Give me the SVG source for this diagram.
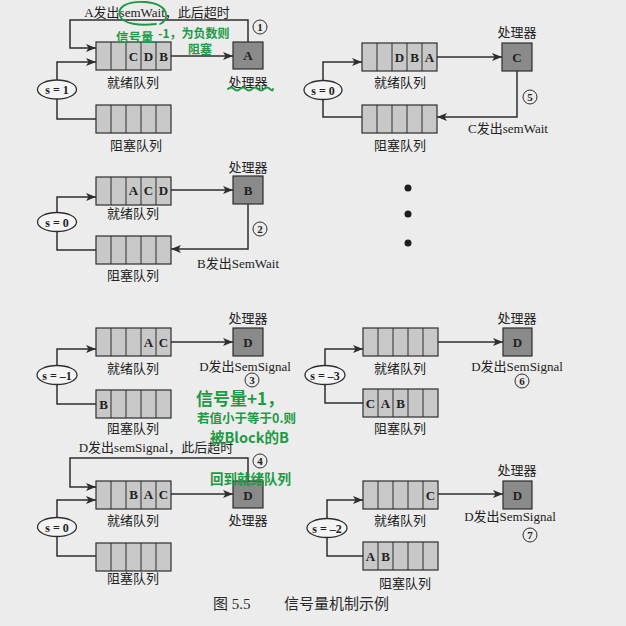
<svg xmlns="http://www.w3.org/2000/svg" xmlns:xlink="http://www.w3.org/1999/xlink" width="626" height="626" viewBox="0 0 626 626">
  <style>
    .bg { fill: #ececec; }
    .q { fill: #c8c8c8; stroke: #2e2e2e; stroke-width: 1.2; }
    .div { stroke: #2e2e2e; stroke-width: 1; }
    .cpu { fill: #8a8a8a; stroke: #2e2e2e; stroke-width: 1.2; }
    .sem { fill: #f4f4f4; stroke: #2e2e2e; stroke-width: 1.3; }
    .conn { fill: none; stroke: #2e2e2e; stroke-width: 1.5; }
    .arr { marker-end: url(#ah); }
    .lbl { font-family: "Liberation Serif", "Noto Sans CJK SC", serif; font-size: 13px; fill: #222; text-anchor: middle; }
    .cell { font-family: "Liberation Serif", serif; font-size: 13px; font-weight: bold; fill: #222; text-anchor: middle; }
    .stxt { font-family: "Liberation Serif", serif; font-size: 12px; font-weight: bold; fill: #222; text-anchor: middle; }
    .num { font-family: "Liberation Serif", serif; font-size: 11px; font-weight: bold; fill: #222; text-anchor: middle; }
    .ring { fill: none; stroke: #2e2e2e; stroke-width: 1; }
    .dot { fill: #1e1e1e; }
    .pen { font-family: "Noto Sans CJK SC", sans-serif; font-weight: bold; fill: #1d9a44; }
    .penline { fill: none; stroke: #1d9a44; stroke-width: 1.8; stroke-linecap: round; }
    .cap { font-family: "Liberation Serif", "Noto Sans CJK SC", serif; font-size: 15px; fill: #2a2a2a; }
  </style>
  <defs>
    <marker id="ah" viewBox="0 0 10 8" refX="10" refY="4" markerWidth="10" markerHeight="8" markerUnits="userSpaceOnUse" orient="auto">
      <path d="M0,0 L10,4 L0,8 L2.5,4 Z" fill="#2e2e2e"/>
    </marker>
    <!-- five-slot queue -->
    <symbol id="queue" viewBox="0 0 75 28" width="75" height="28" overflow="visible">
      <rect class="q" x="0" y="0" width="75" height="28"/>
      <path class="div" d="M15,0 V28 M30,0 V28 M45,0 V28 M60,0 V28"/>
    </symbol>
  </defs>

  <rect class="bg" x="0" y="0" width="626" height="626"/>

  <!-- connectors -->
  <g id="connectors">
    <!-- panel 1 -->
    <path class="conn arr" d="M248,42 V20 H70 V48 H96"/>
    <path class="conn arr" d="M57,80 V62 H96"/>
    <path class="conn" d="M57,99 V119 H96"/>
    <path class="conn arr" d="M171,56 H233"/>
    <!-- panel 5 -->
    <path class="conn arr" d="M437,57 H502"/>
    <path class="conn arr" d="M323,80 V62 H362"/>
    <path class="conn" d="M323,100 V117 H362"/>
    <path class="conn arr" d="M517,71 V117 H437"/>
    <!-- panel 2 -->
    <path class="conn arr" d="M171,190 H233"/>
    <path class="conn arr" d="M57,212 V197 H96"/>
    <path class="conn" d="M57,232 V250 H96"/>
    <path class="conn arr" d="M248,204 V249 H171"/>
    <!-- panel 3 -->
    <path class="conn arr" d="M171,342 H233"/>
    <path class="conn arr" d="M57,365 V349 H96"/>
    <path class="conn" d="M57,385 V404 H96"/>
    <!-- panel 6 -->
    <path class="conn arr" d="M438,342 H503"/>
    <path class="conn arr" d="M325,365 V349 H363"/>
    <path class="conn" d="M325,385 V403 H363"/>
    <!-- panel 4 -->
    <path class="conn arr" d="M248,481 V458 H70 V487 H96"/>
    <path class="conn arr" d="M57,517 V500 H96"/>
    <path class="conn" d="M57,537 V556 H96"/>
    <path class="conn arr" d="M171,494 H233"/>
    <!-- panel 7 -->
    <path class="conn arr" d="M438,494 H503"/>
    <path class="conn arr" d="M327,518 V500 H363"/>
    <path class="conn" d="M327,538 V556 H363"/>
  </g>

  <!-- panel 1 -->
  <g id="p1-ready">
    <use href="#queue" x="96" y="42"/>
    <text class="cell" x="133.5" y="61">C</text>
    <text class="cell" x="148.5" y="61">D</text>
    <text class="cell" x="163.5" y="61">B</text>
    <text class="lbl" x="133" y="87">就绪队列</text>
  </g>
  <g id="p1-cpu">
    <rect class="cpu" x="233" y="42" width="30" height="27"/>
    <text class="cell" x="248" y="60">A</text>
    <text class="lbl" x="248" y="87">处理器</text>
  </g>
  <g id="p1-blocked">
    <use href="#queue" x="96" y="105"/>
    <text class="lbl" x="136" y="150">阻塞队列</text>
  </g>
  <g id="p1-sem">
    <ellipse class="sem" cx="57" cy="89.5" rx="19.5" ry="9.5"/>
    <text class="stxt" x="57" y="94">s = 1</text>
  </g>
  <g id="p1-note">
    <text class="lbl" x="157" y="17">A发出semWait，此后超时</text>
    <circle class="ring" cx="260" cy="27" r="7"/>
    <text class="num" x="260" y="31">1</text>
  </g>

  <!-- panel 5 -->
  <g id="p5-ready">
    <use href="#queue" x="362" y="43"/>
    <text class="cell" x="399.5" y="62">D</text>
    <text class="cell" x="414.5" y="62">B</text>
    <text class="cell" x="429.5" y="62">A</text>
    <text class="lbl" x="400" y="87">就绪队列</text>
  </g>
  <g id="p5-cpu">
    <rect class="cpu" x="502" y="43" width="30" height="28"/>
    <text class="cell" x="517" y="62">C</text>
    <text class="lbl" x="517" y="37">处理器</text>
  </g>
  <g id="p5-blocked">
    <use href="#queue" x="362" y="105"/>
    <text class="lbl" x="400" y="150">阻塞队列</text>
  </g>
  <g id="p5-sem">
    <ellipse class="sem" cx="323" cy="90" rx="19" ry="9.5"/>
    <text class="stxt" x="323" y="94.5">s = 0</text>
  </g>
  <g id="p5-note">
    <circle class="ring" cx="530" cy="97" r="7"/>
    <text class="num" x="530" y="101">5</text>
    <text class="lbl" x="508" y="133">C发出semWait</text>
  </g>

  <!-- panel 2 -->
  <g id="p2-ready">
    <use href="#queue" x="96" y="177"/>
    <text class="cell" x="133.5" y="195">A</text>
    <text class="cell" x="148.5" y="195">C</text>
    <text class="cell" x="163.5" y="195">D</text>
    <text class="lbl" x="133" y="218">就绪队列</text>
  </g>
  <g id="p2-cpu">
    <rect class="cpu" x="233" y="176" width="30" height="28"/>
    <text class="cell" x="248" y="195">B</text>
    <text class="lbl" x="248" y="172">处理器</text>
  </g>
  <g id="p2-blocked">
    <use href="#queue" x="96" y="236"/>
    <text class="lbl" x="133" y="280">阻塞队列</text>
  </g>
  <g id="p2-sem">
    <ellipse class="sem" cx="57" cy="222" rx="19.5" ry="9.5"/>
    <text class="stxt" x="57" y="226.5">s = 0</text>
  </g>
  <g id="p2-note">
    <circle class="ring" cx="260" cy="229" r="7"/>
    <text class="num" x="260" y="233">2</text>
    <text class="lbl" x="238" y="268">B发出SemWait</text>
  </g>

  <!-- elision dots -->
  <g id="ellipsis">
    <circle class="dot" cx="408" cy="188" r="3.5"/>
    <circle class="dot" cx="408" cy="214" r="3.5"/>
    <circle class="dot" cx="408" cy="243" r="3.5"/>
  </g>

  <!-- panel 3 -->
  <g id="p3-ready">
    <use href="#queue" x="96" y="328"/>
    <text class="cell" x="148.5" y="347">A</text>
    <text class="cell" x="163.5" y="347">C</text>
    <text class="lbl" x="133" y="373">就绪队列</text>
  </g>
  <g id="p3-cpu">
    <rect class="cpu" x="233" y="328" width="30" height="28"/>
    <text class="cell" x="248" y="347">D</text>
    <text class="lbl" x="248" y="323">处理器</text>
  </g>
  <g id="p3-blocked">
    <use href="#queue" x="96" y="390"/>
    <text class="cell" x="103.5" y="409">B</text>
    <text class="lbl" x="133" y="433">阻塞队列</text>
  </g>
  <g id="p3-sem">
    <ellipse class="sem" cx="57" cy="375" rx="20" ry="9.5"/>
    <text class="stxt" x="57" y="379.5">s = –1</text>
  </g>
  <g id="p3-note">
    <text class="lbl" x="245" y="371">D发出SemSignal</text>
    <circle class="ring" cx="252" cy="380" r="7"/>
    <text class="num" x="252" y="384">3</text>
  </g>

  <!-- panel 6 -->
  <g id="p6-ready">
    <use href="#queue" x="363" y="328"/>
    <text class="lbl" x="400" y="373">就绪队列</text>
  </g>
  <g id="p6-cpu">
    <rect class="cpu" x="503" y="328" width="29" height="28"/>
    <text class="cell" x="517.5" y="347">D</text>
    <text class="lbl" x="517" y="323">处理器</text>
  </g>
  <g id="p6-blocked">
    <use href="#queue" x="363" y="389"/>
    <text class="cell" x="370.5" y="408">C</text>
    <text class="cell" x="385.5" y="408">A</text>
    <text class="cell" x="400.5" y="408">B</text>
    <text class="lbl" x="400" y="433">阻塞队列</text>
  </g>
  <g id="p6-sem">
    <ellipse class="sem" cx="325" cy="375" rx="20" ry="9.5"/>
    <text class="stxt" x="325" y="379.5">s = –3</text>
  </g>
  <g id="p6-note">
    <text class="lbl" x="517" y="371">D发出SemSignal</text>
    <circle class="ring" cx="522" cy="381" r="7"/>
    <text class="num" x="522" y="385">6</text>
  </g>

  <!-- panel 4 -->
  <g id="p4-ready">
    <use href="#queue" x="96" y="481"/>
    <text class="cell" x="133.5" y="499">B</text>
    <text class="cell" x="148.5" y="499">A</text>
    <text class="cell" x="163.5" y="499">C</text>
    <text class="lbl" x="133" y="525">就绪队列</text>
  </g>
  <g id="p4-cpu">
    <rect class="cpu" x="233" y="481" width="30" height="27"/>
    <text class="cell" x="248" y="500">D</text>
    <text class="lbl" x="248" y="525">处理器</text>
  </g>
  <g id="p4-blocked">
    <use href="#queue" x="96" y="543"/>
    <text class="lbl" x="133" y="583">阻塞队列</text>
  </g>
  <g id="p4-sem">
    <ellipse class="sem" cx="57" cy="527" rx="19.5" ry="9.5"/>
    <text class="stxt" x="57" y="531.5">s = 0</text>
  </g>
  <g id="p4-note">
    <text class="lbl" x="156" y="452">D发出semSignal，此后超时</text>
    <circle class="ring" cx="260" cy="461" r="7"/>
    <text class="num" x="260" y="465">4</text>
  </g>

  <!-- panel 7 -->
  <g id="p7-ready">
    <use href="#queue" x="363" y="481"/>
    <text class="cell" x="430.5" y="500">C</text>
    <text class="lbl" x="400" y="525">就绪队列</text>
  </g>
  <g id="p7-cpu">
    <rect class="cpu" x="503" y="481" width="29" height="28"/>
    <text class="cell" x="517.5" y="500">D</text>
    <text class="lbl" x="517" y="475">处理器</text>
  </g>
  <g id="p7-blocked">
    <use href="#queue" x="363" y="542"/>
    <text class="cell" x="370.5" y="561">A</text>
    <text class="cell" x="385.5" y="561">B</text>
    <text class="lbl" x="405" y="588">阻塞队列</text>
  </g>
  <g id="p7-sem">
    <ellipse class="sem" cx="327" cy="528" rx="20" ry="9.5"/>
    <text class="stxt" x="327" y="532.5">s = –2</text>
  </g>
  <g id="p7-note">
    <text class="lbl" x="510" y="521">D发出SemSignal</text>
    <circle class="ring" cx="530" cy="535" r="7"/>
    <text class="num" x="530" y="539">7</text>
  </g>

  <!-- handwritten notes in green pen -->
  <g id="pen-notes">
    <path class="penline" d="M160,24 C170,20 170,4 145,2 C125,1 117,8 120,16 C123,24 140,26 156,24"/>
    <text class="pen" x="116" y="42" font-size="12.5">信号量</text>
    <text class="pen" x="158" y="38" font-size="12">-1，为负数则</text>
    <text class="pen" x="188" y="54" font-size="12">阻塞</text>
    <path class="penline" d="M228,89 q3,-3 6,0 t6,0 t6,0 t6,0 t6,0 t6,0 t6,0 t3,0"/>
    <text class="pen" x="196" y="405" font-size="17">信号量+1，</text>
    <text class="pen" x="197" y="423" font-size="12.5">若值小于等于0.则</text>
    <text class="pen" x="210" y="443" font-size="14.5">被Block的B</text>
    <text class="pen" x="210" y="484" font-size="13.5">回到就绪队列</text>
  </g>

  <!-- caption -->
  <text class="cap" y="609"><tspan x="213">图 5.5</tspan><tspan x="284">信号量机制示例</tspan></text>
</svg>
